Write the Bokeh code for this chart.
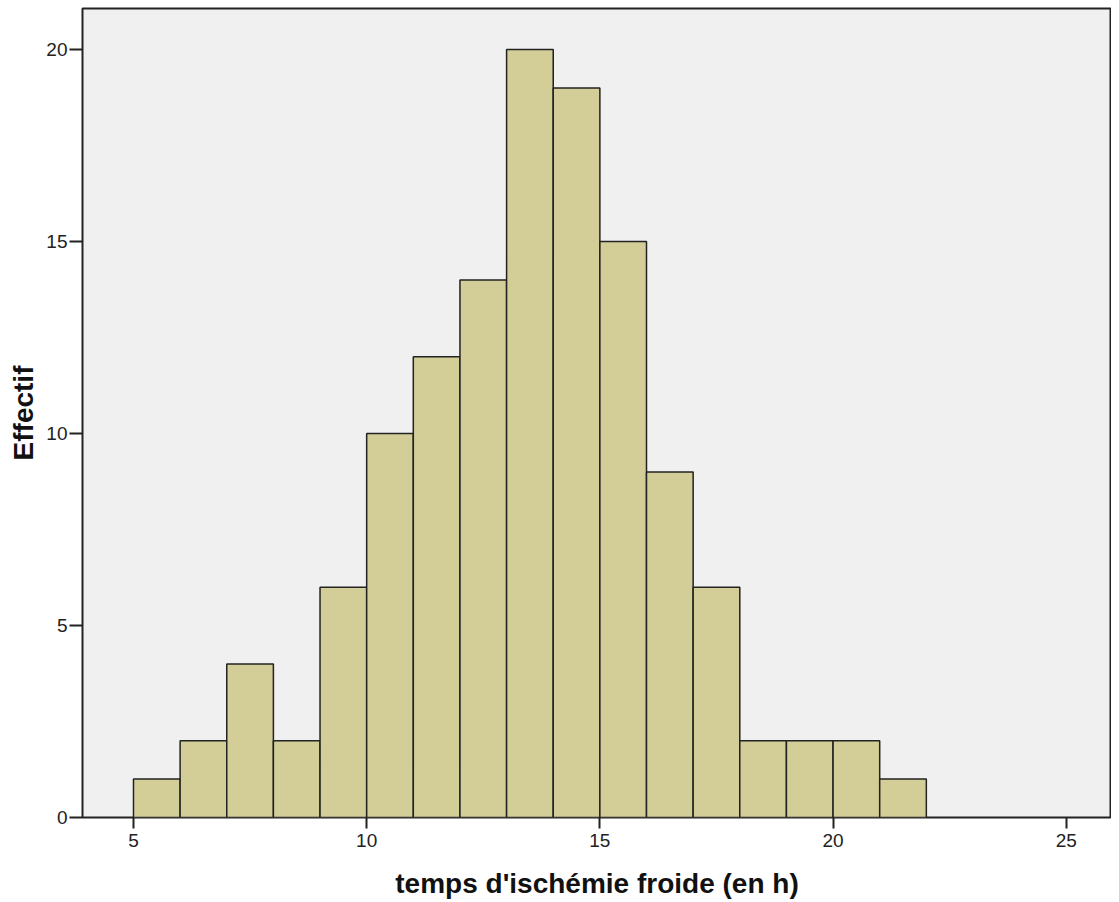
from bokeh.plotting import figure
from bokeh.models import FixedTicker, Range1d
from bokeh.embed import file_html
from bokeh.resources import INLINE

bin_left = [5, 6, 7, 8, 9, 10, 11, 12, 13, 14, 15, 16, 17, 18, 19, 20, 21]
bin_right = [6, 7, 8, 9, 10, 11, 12, 13, 14, 15, 16, 17, 18, 19, 20, 21, 22]
counts = [1, 2, 4, 2, 6, 10, 12, 14, 20, 19, 15, 9, 6, 2, 2, 2, 1]
x_ticks = [5, 10, 15, 20, 25]
y_ticks = [0, 5, 10, 15, 20]

p = figure(width=1111, height=902, output_backend="svg", toolbar_location=None,
           x_range=Range1d(3.907, 25.97), y_range=Range1d(0, 21.07),
           min_border_left=82, min_border_right=0, min_border_top=8, min_border_bottom=85)
p.background_fill_color = "#F0F0F0"
p.border_fill_color = "white"
p.outline_line_color = "#222222"
p.outline_line_width = 2
p.grid.visible = False

p.quad(left=bin_left, right=bin_right, bottom=0, top=counts,
       fill_color="#D3CE98", line_color="#222222", line_width=1.5)

for ax in (p.xaxis[0], p.yaxis[0]):
    ax.axis_line_color = None
    ax.minor_tick_line_color = None
    ax.major_tick_in = 0
    ax.major_tick_line_color = "#222222"
    ax.major_tick_line_width = 2
    ax.major_label_text_font = "Liberation Sans"
    ax.major_label_text_font_size = "19px"
    ax.major_label_text_color = "#222222"
    ax.axis_label_text_font = "Liberation Sans"
    ax.axis_label_text_font_style = "bold"
    ax.axis_label_text_font_size = "28px"
    ax.axis_label_text_color = "#111111"

p.xaxis.ticker = FixedTicker(ticks=x_ticks)
p.yaxis.ticker = FixedTicker(ticks=y_ticks)
p.xaxis.major_tick_out = 11
p.xaxis.major_label_standoff = 5
p.yaxis.major_tick_out = 13
p.yaxis.major_label_standoff = 2
p.xaxis.axis_label = "temps d'ischémie froide (en h)"
p.yaxis.axis_label = "Effectif"
p.xaxis.axis_label_standoff = 18
p.yaxis.axis_label_standoff = 4

open("out.html", "w").write(file_html(p, INLINE))
